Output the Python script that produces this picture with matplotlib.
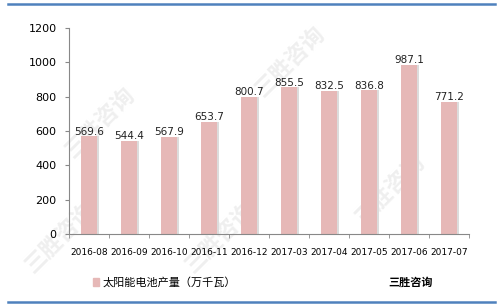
import numpy as np
import matplotlib
matplotlib.use("Agg")
import matplotlib.pyplot as plt
from matplotlib.lines import Line2D
from matplotlib.patches import Rectangle

plt.rcParams['font.family'] = ['Noto Sans CJK SC', 'DejaVu Sans']

months = ["2016-08", "2016-09", "2016-10", "2016-11", "2016-12",
          "2017-03", "2017-04", "2017-05", "2017-06", "2017-07"]
values = [569.6, 544.4, 567.9, 653.7, 800.7, 855.5, 832.5, 836.8, 987.1, 771.2]
yticks = [0, 200, 400, 600, 800, 1000, 1200]
legend_label = "太阳能电池产量（万千瓦）"

fig = plt.figure(figsize=(5, 3.05), dpi=100)
ax = fig.add_axes([0.138, 0.233, 0.8, 0.675])
ax.set_zorder(2)
ax.patch.set_alpha(0)

# faint watermarks (behind the chart)
for wx, wy in [(0.2, 0.6), (0.58, 0.8), (0.12, 0.22), (0.44, 0.22), (0.78, 0.38)]:
    fig.text(wx, wy, "三胜咨询", fontsize=16, rotation=45, color="#efefef",
             ha="center", va="center", weight="bold", zorder=0)

x = np.arange(len(months))
# shadow then bar
ax.bar(x + 0.05, values, width=0.38, color="#dcdcdc", zorder=1)
ax.bar(x, values, width=0.38, color="#e6b8b7", zorder=2)

for xi, v in zip(x, values):
    ax.text(xi, v - 2, f"{v:.1f}", ha="center", va="bottom",
            fontsize=7.5, family="DejaVu Sans", color="#222222", zorder=3)

ax.set_xlim(-0.5, len(months) - 0.5)
ax.set_ylim(0, 1200)
ax.set_yticks(yticks)
ax.set_yticklabels([str(t) for t in yticks], fontsize=8, family="DejaVu Sans")
ax.set_xticks(x)
ax.set_xticklabels(months, fontsize=6.5, family="DejaVu Sans")
ax.tick_params(axis="x", length=0, pad=10)
ax.set_xticks(np.arange(len(months) + 1) - 0.5, minor=True)
ax.tick_params(axis="x", which="minor", length=3, color="#888888")
ax.tick_params(axis="y", length=3, color="#888888", pad=6)
for s in ["top", "right"]:
    ax.spines[s].set_visible(False)
for s in ["left", "bottom"]:
    ax.spines[s].set_color("#888888")

# legend
fig.patches.append(Rectangle((0.186, 0.062), 0.012, 0.026, transform=fig.transFigure,
                             color="#e6b8b7", figure=fig))
fig.text(0.205, 0.075, legend_label, fontsize=8, va="center", ha="left")
fig.text(0.776, 0.075, "三胜咨询", fontsize=8, va="center", ha="left", weight="bold")

# blue frame lines
fig.add_artist(Line2D([0.016, 0.99], [0.987, 0.987], color="#4f81bd", lw=1.8))
fig.add_artist(Line2D([0.016, 0.99], [0.01, 0.01], color="#4f81bd", lw=1.8))

fig.savefig("out.png", dpi=100)
